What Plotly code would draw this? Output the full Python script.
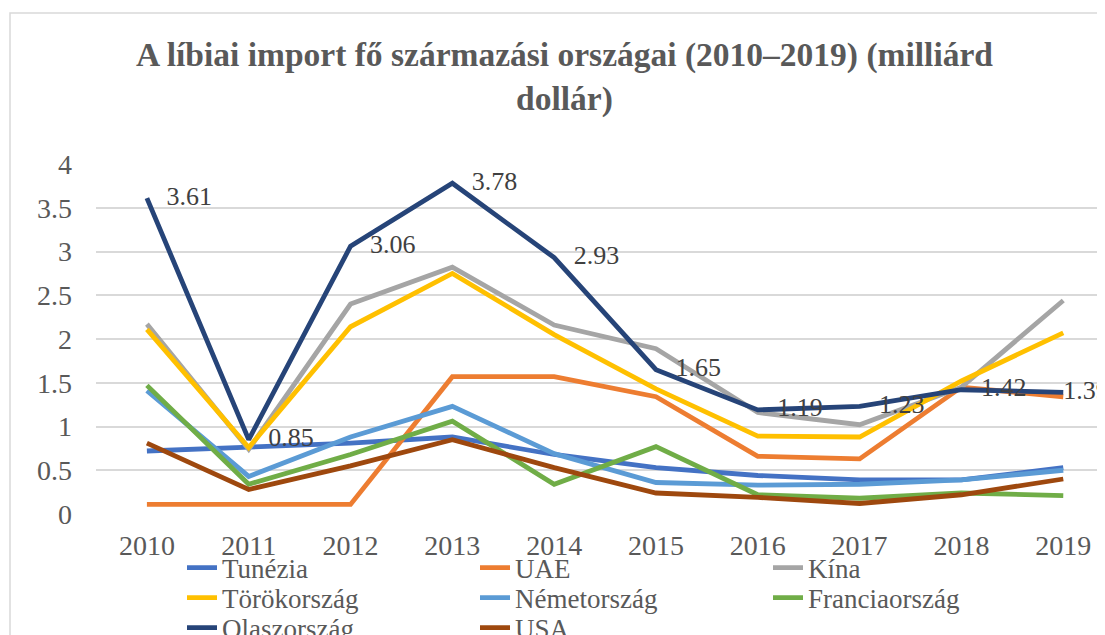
import plotly.graph_objects as go

years = ["2010", "2011", "2012", "2013", "2014", "2015", "2016", "2017", "2018", "2019"]

tunezia = [0.72, 0.77, 0.81, 0.88, 0.68, 0.53, 0.44, 0.39, 0.39, 0.53]
uae = [0.11, 0.11, 0.11, 1.57, 1.57, 1.34, 0.66, 0.63, 1.45, 1.34]
kina = [2.17, 0.74, 2.40, 2.82, 2.16, 1.89, 1.16, 1.02, 1.45, 2.44]
torok = [2.11, 0.76, 2.14, 2.75, 2.05, 1.43, 0.89, 0.88, 1.52, 2.07]
nemet = [1.41, 0.43, 0.88, 1.23, 0.69, 0.36, 0.33, 0.34, 0.39, 0.50]
francia = [1.47, 0.34, 0.68, 1.06, 0.34, 0.77, 0.22, 0.18, 0.24, 0.21]
olasz = [3.61, 0.85, 3.06, 3.78, 2.93, 1.65, 1.19, 1.23, 1.42, 1.39]
usa = [0.81, 0.28, 0.55, 0.85, 0.53, 0.24, 0.19, 0.12, 0.22, 0.40]

series = [
    ("Tunézia", tunezia, "#4472C4"),
    ("UAE", uae, "#ED7D31"),
    ("Kína", kina, "#A5A5A5"),
    ("Törökország", torok, "#FFC000"),
    ("Németország", nemet, "#5B9BD5"),
    ("Franciaország", francia, "#70AD47"),
    ("Olaszország", olasz, "#264478"),
    ("USA", usa, "#9E480E"),
]

FONT = "Liberation Serif"
NB = "\u00a0"

# page body has an 8px margin: work in coordinates shifted by 8px
W, H = 1097, 627
L, T, B = 88, 156, 121
PW, PH = W - L, H - T - B  # 1009 x 350


def px_x(x):
    return (x - 8 - L) / PW


def px_y(y):
    return (H - B - (y - 8)) / PH


legend_ids = ["legend", "legend", "legend", "legend2", "legend2", "legend2", "legend3", "legend3"]

fig = go.Figure()
for (name, vals, col), lg in zip(series, legend_ids):
    labels = name == "Olaszország"
    if labels:
        # last label sits closer to its point (kept inside the chart, as in the original)
        txt = [(NB * 3 if i < len(vals) - 1 else "") + f"{v:.2f}" for i, v in enumerate(vals)]
    else:
        txt = None
    fig.add_trace(go.Scatter(
        x=years, y=vals, name=name, legend=lg,
        mode="lines+text" if labels else "lines",
        text=txt,
        textposition="middle right",
        textfont=dict(family=FONT, size=26, color="#404040"),
        line=dict(color=col, width=4.8),
        cliponaxis=False,
    ))


def legend_row(y_center):
    return dict(
        orientation="h", x=px_x(182), xanchor="left", y=px_y(y_center), yanchor="middle",
        entrywidth=248, entrywidthmode="pixels",
        font=dict(family=FONT, size=27, color="#595959"),
        itemwidth=30, bgcolor="rgba(0,0,0,0)",
    )


fig.update_layout(
    width=W, height=H,
    margin=dict(l=L, r=0, t=T, b=B, autoexpand=False),
    paper_bgcolor="white", plot_bgcolor="white",
    font=dict(family=FONT, color="#595959"),
    showlegend=True,
    legend=legend_row(568),
    legend2=legend_row(598),
    legend3=legend_row(628),
    xaxis=dict(
        type="category", range=[-0.5, 9.41],
        showgrid=False, zeroline=False, showline=False,
        ticks="", tickfont=dict(family=FONT, size=28, color="#595959"),
        ticklabelstandoff=12,
    ),
    yaxis=dict(
        range=[0, 4], dtick=0.5, showgrid=True, gridcolor="#D9D9D9", gridwidth=1.5,
        zeroline=False, showline=False, ticks="",
        tickfont=dict(family=FONT, size=28, color="#595959"),
        ticklabelstandoff=23,
    ),
    annotations=[dict(
        text="<b>A líbiai import fő származási országai (2010–2019) (milliárd<br>dollár)</b>",
        xref="paper", yref="paper", x=px_x(564), y=px_y(34),
        xanchor="center", yanchor="top", showarrow=False, align="center",
        font=dict(family=FONT, size=33.5, color="#595959"),
    )],
    shapes=[dict(
        type="rect", xref="paper", yref="paper",
        x0=px_x(10), x1=1.1, y0=-0.6, y1=px_y(13),
        line=dict(color="#D9D9D9", width=1.5), fillcolor="rgba(0,0,0,0)", layer="below",
    )],
)

fig.write_html("out.html")
